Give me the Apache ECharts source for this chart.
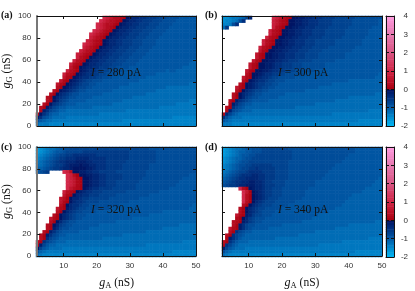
<!DOCTYPE html>
<html><head><meta charset="utf-8">
<style>html,body{margin:0;padding:0;background:#fff}#c{width:415px;height:291px;filter:blur(0.45px)}</style>
<script src="https://cdn.jsdelivr.net/npm/echarts@6/dist/echarts.min.js"></script>
</head><body><div id="c"></div>
<script>
const gACells=[2.5,3.5,4.5,5.5,6.5,7.5,8.5,9.5,10.5,11.5,12.5,13.5,14.5,15.5,16.5,17.5,18.5,19.5,20.5,21.5,22.5,23.5,24.5,25.5,26.5,27.5,28.5,29.5,30.5,31.5,32.5,33.5,34.5,35.5,36.5,37.5,38.5,39.5,40.5,41.5,42.5,43.5,44.5,45.5,46.5,47.5,48.5,49.5];
const gGCells=[1.5,4.5,7.6,10.6,13.6,16.7,19.7,22.7,25.8,28.8,31.8,34.8,37.9,40.9,43.9,47,50,53,56.1,59.1,62.1,65.2,68.2,71.2,74.2,77.3,80.3,83.3,86.4,89.4,92.4,95.5,98.5];
const levelValues={a:-1.9375,b:-1.8125,c:-1.6875,d:-1.5625,e:-1.4375,f:-1.3125,g:-1.1875,h:-1.0625,i:-0.9375,j:-0.8125,k:-0.6875,l:-0.5625,m:-0.4375,n:-0.3125,o:-0.1875,p:-0.0625,0:0.0625,1:0.1875,2:0.3125,3:0.5625,4:0.8125,5:1.0625};
const colorbarValues=[-1.9375,-1.8125,-1.6875,-1.5625,-1.4375,-1.3125,-1.1875,-1.0625,-0.9375,-0.8125,-0.6875,-0.5625,-0.4375,-0.3125,-0.1875,-0.0625,0.0625,0.1875,0.3125,0.4375,0.5625,0.6875,0.8125,0.9375,1.0625,1.1875,1.3125,1.4375,1.5625,1.6875,1.8125,1.9375,2.0625,2.1875,2.3125,2.4375,2.5625,2.6875,2.8125,2.9375,3.0625,3.1875,3.3125,3.4375,3.5625,3.6875,3.8125,3.9375];
const currents=['280','300','320','340'];
const panelLetters=['(a)','(b)','(c)','(d)'];
const xTicks=[10,20,30,40,50];
const yTicks=[0,20,40,60,80,100];
const cbTicks=[-2,-1,0,1,2,3,4];
// rows run from gG = 100 (top) to gG = 0 (bottom); '.' = no value (white)
const rowsA=[
"........../........../5432210pon/nmmlllkkkj/jjjiiiii",
"........../.........5/432210ponn/mmlllkkkjj/jjiiiiii",
"........../........54/32210ponnm/mlllkkkjjj/jiiiiiii",
"........../........54/3210ponnmm/lllkkkjjjj/iiiiiiii",
"........../.......543/210ponnmml/llkkkjjjji/iiiiiiii",
"........../......5432/10ponnmmll/lkkkjjjjii/iiiiiiii",
"........../......4321/0ponnmmlll/kkkjjjjiii/iiiiiiii",
"........../.....43210/ponnmmlllk/kkjjjjiiii/iiiiiiii",
"........../....543210/ponnmmlllk/kkjjjjiiii/iiiiiiii",
"........../....43210p/onnmmlllkk/kjjjjiiiii/iiiiiiii",
"........../...43210po/nnmmlllkkk/jjjjiiiiii/iiiiiiii",
"........../..43210pon/nmmlllkkkj/jjjiiiiiii/iiiiiiii",
"........../..4210ponn/mmlllkkkjj/jjiiiiiiii/iiiiiiii",
"........../.4210ponnm/mlllkkkjjj/jiiiiiiiii/iiiiiiih",
"........../4210ponnmm/lllkkkjjjj/iiiiiiiiii/iiiiiihh",
"........../310ponnmml/llkkjjjjii/iiiiiiiiii/iiiihhhh",
".........4/210ponmmll/kkjjjjiiii/iiiiiiiiih/iihhhhhh",
"........42/10ponmmllk/kjjjiiiiii/iiiiiihhhh/hhhhhhhh",
"........31/0ponmmllkk/jjjiiiiiii/iiihhhhhhh/hhhhhhhh",
".......310/ponmlkkjjj/iiiiiiiiii/ihhhhhhhhh/hhhhhhhh",
"......310p/onmlkkjjii/iiiiiiiihh/hhhhhhhhhh/hhhhhhgg",
"......20po/nmlkkjjiii/iiiiihhhhh/hhhhhhhhhg/gggggggg",
".....20pon/mlkjjiiiii/iiihhhhhhh/hhhhhhgggg/gggggggg",
"....20pnml/kjjiiiiiii/hhhhhhhhhh/hhhggggggg/gggggggg",
"...20pnmlk/jjiiiiihhh/hhhhhhhhhg/gggggggggg/gggggggg",
"...20pnlkj/iiiiihhhhh/hhhhhhgggg/gggggggggg/ggggggff",
"..20pmlkji/iihhhhhhhh/hhhggggggg/gggggggggg/ggffffff",
".20omkjiih/hhhhhhhggg/gggggggggg/gggggggfff/ffffffff",
".1omkjihhg/gggggggggg/gggggggfff/ffffffffff/ffffffff",
"1pmkihhggg/gggggggggf/ffffffffff/ffffffffff/ffffffff",
"omjihggggf/ffffffffff/ffffffffff/ffffffffff/feeeeeee",
"jihggfffff/ffffffffff/ffffffeeee/eeeeeeeeee/eeeeeeee",
"gfffeeeeee/eeeeeeeeee/eeeeeeeeee/eeeeeeeeee/eeeeeeee"];
const rowsB=[
"ddeffghkn./.....54321/0ppoonnmmm/llllkkkkkk/jjjjjjjj",
"deefgjm.../.....43210/ppoonnmmml/lllkkkkkkj/jjjjjjji",
"eefjm...../.....43210/ppoonnmmml/lllkkkkkkj/jjjjjjji",
"gl......../.....4210p/poonnmmmll/llkkkkkkjj/jjjjjiii",
"........../....4210pp/oonnmmmlll/lkkkkkkjjj/jjjjiiii",
"........../....4210pp/oonnmmmlll/lkkkkkkjjj/jjjjiiii",
"........../...4210ppo/onnmmmllll/kkkkkkjjjj/jjjiiiii",
"........../..4210ppoo/nnmmmlllkk/kkkkjjjjjj/jjiiiiii",
"........../..4210ppoo/nnmmmlllkk/kkkkjjjjjj/jjiiiiii",
"........../.4210ppoon/nmmmlllkkk/kkjjjjjjjj/iiiiiiii",
"........../.310ppoonn/mmmlllkkkk/jjjjjjjjji/iiiiiiii",
"........../310ppoonnm/mmlllkkkkj/jjjjjjjiii/iiiiiiii",
"........../310ppoonnm/mmlllkkkkj/jjjjjjjiii/iiiiiiii",
".........3/10ppoonnmm/lllkkkkjjj/jjjjiiiiii/iiiiiiii",
"........31/0ppoonmmll/lkkkjjjjjj/jiiiiiiiii/iiiiiiii",
"........31/0ppoonmmll/lkkkjjjjjj/jiiiiiiiii/iiiiiiii",
".......310/ppoonmmllk/kkjjjjjjii/iiiiiiiiii/iiiiiiii",
".......20p/ponmmllkkj/jjjjjiiiii/iiiiiiiiii/iiiiiiih",
"......310p/onmmlkkjjj/jjiiiiiiii/iiiiiiiiii/iiiiiihh",
"......20po/nmmlkkjjji/iiiiiiiiii/iiiiiiiihh/hhhhhhhh",
".....20pon/mllkkjjiii/iiiiiiiiii/iiihhhhhhh/hhhhhhhh",
"....310pon/mlkkjjiiii/iiiiiiiiih/hhhhhhhhhh/hhhhhhhh",
"....20pnml/kkjjiiiiii/iiiiihhhhh/hhhhhhhhhh/hhhhhhhh",
"...20pnmlk/jjiiiiiiih/hhhhhhhhhh/hhhhhhhhhh/hhhhhhgg",
"...20pnlkj/jiiiiiihhh/hhhhhhhhhh/hhhhhhhhgg/gggggggg",
"..20omlkji/iiiihhhhhh/hhhhhhhhhh/hhhhgggggg/gggggggg",
"..1omkjiih/hhhhhhhhhh/hhhhhhhhgg/gggggggggg/gggggggg",
".20mkjihhh/hhhhhhhhhh/hhgggggggg/gggggggggg/gggggggg",
".1okjihhhg/gggggggggg/gggggggggg/gggggggggg/ggggffff",
"1nkihggggg/gggggggggg/gggggggggg/gggfffffff/ffffffff",
"mjhgggffff/ffffffffff/ffffffffff/ffffffffff/ffffffff",
"ihgfffffff/ffffffffff/ffffffffff/ffffffffff/feeeeeee",
"fffeeeeeee/eeeeeeeeee/eeeeeeeeee/eeeeeeeeee/eeeeeeee"];
const rowsC=[
"cdefgghijj/kkkkkkkkkk/kkkkkkkkkk/kkkkjjjjjj/jjjjjjjj",
"cdefghiijk/kkkkllllll/llllllllkk/kkkkkkjjjj/jjjjjjjj",
"defghijkkl/lmmmmmmmll/llllllllkk/kkkkkkjjjj/jjjjjjjj",
"efghijkllm/mmnnnnmmmm/mlllllllkk/kkkkkkjjjj/jjjjjjjj",
"fghijklmmn/nnooonnmmm/mllllllkkk/kkkkkkjjjj/jjjjjjjj",
"gghijkllmn/ooopoonnmm/mlllllkkkk/kkkkjjjjjj/jjjjjjjj",
"hhijkllmnn/oppppoonmm/mlllllkkkk/kkkkjjjjjj/jjjjjjjj",
"ijkl....54/2ppoonnmml/llllkkkkkk/kkkjjjjjjj/jjjjjjjj",
".........5/420ppoonnm/mlllllkkkk/kkkjjjjjjj/jjjjjjii",
".........5/4310pponnm/mlllllkkkk/kkjjjjjjjj/jjjjiiii",
".........5/4310pponnm/mlllkkkkkk/kjjjjjjjjj/jjjiiiii",
".........5/4310pponnm/mlllkkkkkk/jjjjjjjjjj/jjiiiiii",
".........5/3210ponmml/lllkkkkkkk/jjjjjjjjjj/iiiiiiii",
"........42/10ponmmlll/kkkkkkkjjj/jjjjjjjiii/iiiiiiii",
"........31/0pnnmmlllk/kkkkjjjjjj/jjjjiiiiii/iiiiiiii",
".......320/pnnmllkkkk/kkjjjjjjjj/jiiiiiiiii/iiiiiiii",
".......310/pnmmlkkkkj/jjjjjjjjii/iiiiiiiiii/iiiiiiii",
".......20p/nmmlkkjjjj/jjjjjiiiii/iiiiiiiiii/iiiiiiih",
"......310o/nmlkkjjjjj/jjiiiiiiii/iiiiiiiiii/iiiiiihh",
"......20pn/mlkkjjjjii/iiiiiiiiii/iiiiiiiihh/hhhhhhhh",
".....20pnm/lkjjjiiiii/iiiiiiiiii/iiiihhhhhh/hhhhhhhh",
"....310pnm/lkjjiiiiii/iiiiiiiiih/hhhhhhhhhh/hhhhhhhh",
"....20pnlk/jjiiiiiiii/iiiihhhhhh/hhhhhhhhhh/hhhhhhhh",
"...20pnlkj/jiiiiiiiih/hhhhhhhhhh/hhhhhhhhhh/hhhggggg",
"...20omkjj/iiiiiihhhh/hhhhhhhhhh/hhhhhhhhgg/gggggggg",
"..20omkjii/iiihhhhhhh/hhhhhhhhhh/hhhggggggg/gggggggg",
".20omkjiih/hhhhhhhhhh/hhhhhhgggg/gggggggggg/gggggggg",
".20mkjihhh/hhhhhhhhhh/gggggggggg/gggggggggg/gggggggg",
"20mkjihhhg/gggggggggg/gggggggggg/gggggggggg/ggggffff",
"1okihhgggg/gggggggggg/gggggggggg/gggfffffff/ffffffff",
"pkihggggff/ffffffffff/ffffffffff/ffffffffff/ffffffff",
"jhgfffffff/ffffffffff/ffffffffff/ffffffffff/feeeeeee",
"gfeeeeeeee/eeeeeeeeee/eeeeeeeeee/eeeeeeeeee/eeeeeeee"];
const rowsD=[
"cdefgghiij/jjkkkkkkkk/jjjjjjjjjj/jjjjjjjjjj/iiiiiiii",
"cdefghhiij/jjkkkkkkkk/kjjjjjjjjj/jjjjjjjjjj/iiiiiiii",
"cdefghiijj/kkkkkkkkkk/kjjjjjjjjj/jjjjjjjjii/iiiiiiii",
"defghhijjk/kkkkkkkkkk/kjjjjjjjjj/jjjjjjjiii/iiiiiiii",
"defghijjkk/kkkkkkkkkk/jjjjjjjjjj/jjjjjjiiii/iiiiiiii",
"efghijjkkl/lllllkkkkk/jjjjjjjjjj/jjjjiiiiii/iiiiiiii",
"efghijkkll/mlllllkkkk/jjjjjjjjjj/jjjiiiiiii/iiiiiiii",
"fghijkklmm/mmllllkkkk/jjjjjjjjjj/jjiiiiiiii/iiiiiiii",
"ghijklmmmn/nmmlllkkkk/jjjjjjjjjj/jiiiiiiiii/iiiiiiii",
"hijklmmnnn/nmmlllkkkk/jjjjjjjjjj/iiiiiiiiii/iiiiiiih",
"ijklmmnnoo/nnmllkkkkj/jjjjjjjjii/iiiiiiiiii/iiiiiihh",
"jkllmnnooo/nnmlllkkkj/jjjjjjjjii/iiiiiiiiii/iiiiihhh",
".....520po/nnmllkkkjj/jjjjjjiiii/iiiiiiiiii/iiihhhhh",
"......530p/onmllkkkjj/jjjjjiiiii/iiiiiiiiii/iihhhhhh",
"......520p/onmllkkkjj/jjjjjiiiii/iiiiiiiiih/hhhhhhhh",
"......520p/onmlkkkjjj/jjjjiiiiii/iiiiiiiihh/hhhhhhhh",
"......520p/nmlkkkjjjj/jjiiiiiiii/iiiiiiihhh/hhhhhhhh",
"......20pn/mlkkkjjjjj/iiiiiiiiii/iiiiiihhhh/hhhhhhhh",
".....20pnm/lkkjjjjjii/iiiiiiiiii/iiiihhhhhh/hhhhhhhh",
".....20pnm/lkjjjjiiii/iiiiiiiiii/iihhhhhhhh/hhhhhhhh",
"....310onl/kkjjjiiiii/iiiiiiiiih/hhhhhhhhhh/hhhhhhhh",
"....10pnlk/jjjiiiiiii/iiiiiiihhh/hhhhhhhhhh/hhhhhhhh",
"...210onlk/jjiiiiiiii/iiiihhhhhh/hhhhhhhhhh/hhhhhhgg",
"...20omkjj/iiiiiiiihh/hhhhhhhhhh/hhhhhhhhgg/gggggggg",
"..310omkji/iiiihhhhhh/hhhhhhhhhh/hhhhgggggg/gggggggg",
"..20mkjiih/hhhhhhhhhh/hhhhhhhhgg/gggggggggg/gggggggg",
".20mkjihhh/hhhhhhhhhh/hhhggggggg/gggggggggg/gggggggg",
".1omkihhhh/hhhhhhgggg/gggggggggg/gggggggggg/ggggffff",
"20mkihhhgg/gggggggggg/gggggggggg/ggggggffff/ffffffff",
"1mkihggggg/gggggggggg/gggggggggf/ffffffffff/ffffffff",
"okihgggfff/ffffffffff/ffffffffff/ffffffffff/ffffffff",
"jhgfffffff/ffffffffff/ffffffffff/ffffffffff/eeeeeeee",
"gfeeeeeeee/eeeeeeeeee/eeeeeeeeee/eeeeeeeeee/eeeeeeee"];

// styling
const blueRamp=[[-2,'#00b8f5'],[-1,'#005aa6'],[0,'#001060']];
const redRamp=[[0,'#a8000f'],[1,'#d02545'],[2,'#d95584'],[3,'#e679b0'],[4,'#ff9be0']];
function hex(c){return [1,3,5].map(i=>parseInt(c.substr(i,2),16));}
function ramp(r,v){for(let i=0;i<r.length-1;i++){if(v<=r[i+1][0]){const t=(v-r[i][0])/(r[i+1][0]-r[i][0]);const a=hex(r[i][1]),b=hex(r[i+1][1]);return 'rgb('+a.map((x,k)=>Math.round(x+(b[k]-x)*t)).join(',')+')';}}return r[r.length-1][1];}
const pieces=[];
for(let i=0;i<48;i++){const lo=-2+i/8,mid=lo+1/16;pieces.push({min:lo,max:lo+1/8,color:mid<0?ramp(blueRamp,mid):ramp(redRamp,mid)});}

const panelBoxes=[{left:36,top:16},{left:222,top:16},{left:36,top:147},{left:222,top:147}];
const W=160,H=110,LBL='#333',LBLF='"Liberation Sans",Arial,sans-serif',SER='"Liberation Serif","Times New Roman",serif';
const panelRows=[rowsA,rowsB,rowsC,rowsD];
const grid=[],xAxis=[],yAxis=[],series=[];
function cat(gi,data){return {type:'category',gridIndex:gi,data:data,show:false,boundaryGap:true};}
panelBoxes.forEach((b,p)=>{
  grid.push({left:b.left,top:b.top,width:W,height:H});
  xAxis.push(cat(grid.length-1,gACells));
  yAxis.push(cat(grid.length-1,gGCells));
  const d=[];
  panelRows[p].forEach((row,r)=>{
    const s=row.replace(/\//g,'');
    for(let c=0;c<s.length;c++){ if(s[c]!=='.') d.push([c,gGCells.length-1-r,levelValues[s[c]]]); }
  });
  series.push({type:'heatmap',xAxisIndex:grid.length-1,yAxisIndex:grid.length-1,data:d,progressive:0,emphasis:{disabled:true}});
});
// colorbar
const cbBoxes=[{left:386,top:16},{left:386,top:147}];
cbBoxes.forEach(b=>{
  grid.push({left:b.left,top:b.top,width:8,height:H});
  xAxis.push(cat(grid.length-1,['cb']));
  yAxis.push(cat(grid.length-1,colorbarValues));
  series.push({type:'heatmap',xAxisIndex:grid.length-1,yAxisIndex:grid.length-1,progressive:0,emphasis:{disabled:true},
    data:colorbarValues.map((v,i)=>[0,i,v])});
});
// overlay axes
function addOverlay(b,w,xr,yr,opts){
  grid.push({left:b.left,top:b.top,width:w,height:H});
  const gi=grid.length-1;
  const line=c=>({show:true,onZero:false,lineStyle:{color:c||'#111',width:1}});
  const tick=(vals,len)=>({show:vals.length>0,inside:true,length:len,customValues:vals,lineStyle:{color:'#111',width:1}});
  const nameRich={g:{fontFamily:SER,fontStyle:'italic',fontSize:12,color:'#111'},s:{fontFamily:SER,fontSize:8.5,color:'#111',padding:[5,0,0,0]},t:{fontFamily:SER,fontSize:11.5,color:'#111'}};
  xAxis.push({type:'value',gridIndex:gi,position:'bottom',min:xr[0],max:xr[1],z:10,splitLine:{show:false},axisLine:line(),axisTick:tick(opts.xt,3),
    axisLabel:{show:!!opts.xl,customValues:opts.xt,fontSize:8,color:LBL,fontFamily:LBLF,margin:6,hideOverlap:false,showMinLabel:true,showMaxLabel:true},
    name:opts.xl?'{g|g}{s|A}{t| (nS)}':'',nameLocation:'middle',nameGap:20,nameTextStyle:{fontFamily:SER,color:'#111',rich:nameRich}});
  xAxis.push({type:'value',gridIndex:gi,position:'top',min:xr[0],max:xr[1],z:10,splitLine:{show:false},axisLine:line(),axisTick:tick(opts.xt,3),axisLabel:{show:false}});
  yAxis.push({type:'value',gridIndex:gi,position:'left',min:yr[0],max:yr[1],z:10,splitLine:{show:false},axisLine:{show:true,onZero:false,lineStyle:{color:opts.leftColor||'#111',width:opts.leftWidth||1}},axisTick:tick(opts.yt,3),
    axisLabel:{show:!!opts.yl,customValues:opts.yt,fontSize:8,color:LBL,fontFamily:LBLF,margin:6,hideOverlap:false,showMinLabel:true,showMaxLabel:true},
    name:opts.yl?'{g|g}{s|G}{t| (nS)}':'',nameLocation:'middle',nameGap:23,nameRotate:90,nameTextStyle:{fontFamily:SER,color:'#111',rich:nameRich}});
  yAxis.push({type:'value',gridIndex:gi,position:'right',min:yr[0],max:yr[1],z:10,splitLine:{show:false},axisLine:line(),axisTick:tick(opts.yt,3),
    axisLabel:{show:!!opts.rl,customValues:cbTicks,fontSize:8,color:LBL,fontFamily:LBLF,margin:14,align:'right',hideOverlap:false,showMinLabel:true,showMaxLabel:true}});
}
panelBoxes.forEach((b,p)=>{
  addOverlay(b,W,[2,50],[0,100],{xt:xTicks,yt:yTicks,xl:p>=2,yl:p%2===0,leftColor:p%2===0?'#777':'#111',leftWidth:p%2===0?2:1});
});
cbBoxes.forEach(b=>{
  addOverlay(b,8,[0,1],[-2,4],{xt:[],yt:cbTicks,rl:true});
});
const graphic=[];
const labelPos=[[1,10],[205,10],[1,142],[205,142]];
const textPos=[[91,73],[278,73],[91,210],[278,210]];
panelLetters.forEach((t,i)=>{
  graphic.push({type:'text',z:50,x:labelPos[i][0],y:labelPos[i][1],style:{text:t,font:'bold 10px '+SER,fill:'#111'}});
  graphic.push({type:'text',z:50,x:textPos[i][0],y:textPos[i][1],style:{text:'{i|I} = '+currents[i]+' pA',verticalAlign:'middle',fill:'#111',font:'11.5px '+SER,rich:{i:{fontStyle:'italic',fontFamily:SER,fontSize:11.5,fill:'#111'}}}});
});
const chart=echarts.init(document.getElementById('c'),null,{renderer:'canvas'});
chart.setOption({animation:false,backgroundColor:'#fff',grid,xAxis,yAxis,series,graphic,
  visualMap:{type:'piecewise',show:false,seriesIndex:[0,1,2,3,4,5],dimension:2,pieces:pieces}});
</script></body></html>
